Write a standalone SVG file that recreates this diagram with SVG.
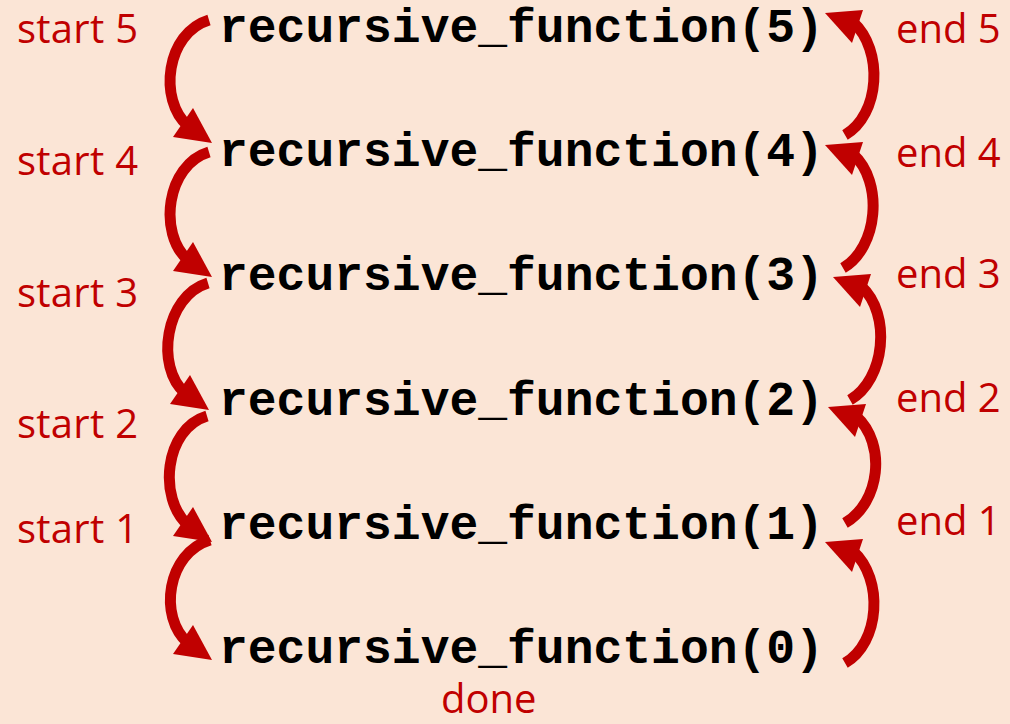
<svg xmlns="http://www.w3.org/2000/svg" width="1010" height="724" viewBox="0 0 1010 724">
<style>
.code{font-family:"Liberation Mono","Courier New",monospace;font-weight:bold;font-size:48px;fill:#000}
.lbl{font-family:"Open Sans","Noto Sans",sans-serif;font-size:40px;fill:#C00000}
.arc{fill:none;stroke:#C00000;stroke-width:11;stroke-linecap:butt}
</style>
<defs>
<marker id="headL" markerUnits="userSpaceOnUse" orient="0" refX="-24" refY="-17" markerWidth="60" markerHeight="60" overflow="visible">
<polygon points="0,0 -39,-6 -19,-35" fill="#C00000"/>
</marker>
<marker id="headR" markerUnits="userSpaceOnUse" orient="0" refX="28" refY="9" markerWidth="60" markerHeight="60" overflow="visible">
<polygon points="0,0 38,-3 27,30" fill="#C00000"/>
</marker>
</defs>
<rect width="1010" height="724" fill="#FBE5D6"/>
<g id="connectors">
<path class="arc" marker-end="url(#headL)" d="M209,20 C166,33 158,100 188,126"/>
<path class="arc" marker-end="url(#headL)" d="M209,152 C166,165 158,234 188,260"/>
<path class="arc" marker-end="url(#headL)" d="M208,283 C165,296 155,367 185,393"/>
<path class="arc" marker-end="url(#headL)" d="M207,416 C164,429 158,499 188,525"/>
<path class="arc" marker-end="url(#headL)" d="M210,540 C167,553 158,617 188,643"/>
<path class="arc" marker-end="url(#headR)" d="M845,135 C880,115 884,50 853,22"/>
<path class="arc" marker-end="url(#headR)" d="M843,268 C878,248 884,182 853,154"/>
<path class="arc" marker-end="url(#headR)" d="M850,400 C885,380 892,314 861,286"/>
<path class="arc" marker-end="url(#headR)" d="M845,523 C880,503 887,444 856,416"/>
<path class="arc" marker-end="url(#headR)" d="M845,663 C880,643 884,579 853,551"/>
</g>
<g id="call5"><text class="code" x="219" y="42">recursive_function(5)</text></g>
<g id="call4"><text class="code" x="219" y="166">recursive_function(4)</text></g>
<g id="call3"><text class="code" x="219" y="290">recursive_function(3)</text></g>
<g id="call2"><text class="code" x="219" y="415">recursive_function(2)</text></g>
<g id="call1"><text class="code" x="219" y="539">recursive_function(1)</text></g>
<g id="call0"><text class="code" x="219" y="663">recursive_function(0)</text></g>
<g id="labels-start">
<text class="lbl" x="17" y="43" textLength="121">start 5</text>
<text class="lbl" x="17" y="175" textLength="121">start 4</text>
<text class="lbl" x="17" y="307" textLength="121">start 3</text>
<text class="lbl" x="17" y="438" textLength="121">start 2</text>
<text class="lbl" x="17" y="543" textLength="121">start 1</text>
</g>
<g id="labels-end">
<text class="lbl" x="896" y="43">end 5</text>
<text class="lbl" x="896" y="167">end 4</text>
<text class="lbl" x="896" y="288">end 3</text>
<text class="lbl" x="896" y="412">end 2</text>
<text class="lbl" x="896" y="535">end 1</text>
</g>
<g id="done"><text class="lbl" x="441" y="713">done</text></g>
</svg>
